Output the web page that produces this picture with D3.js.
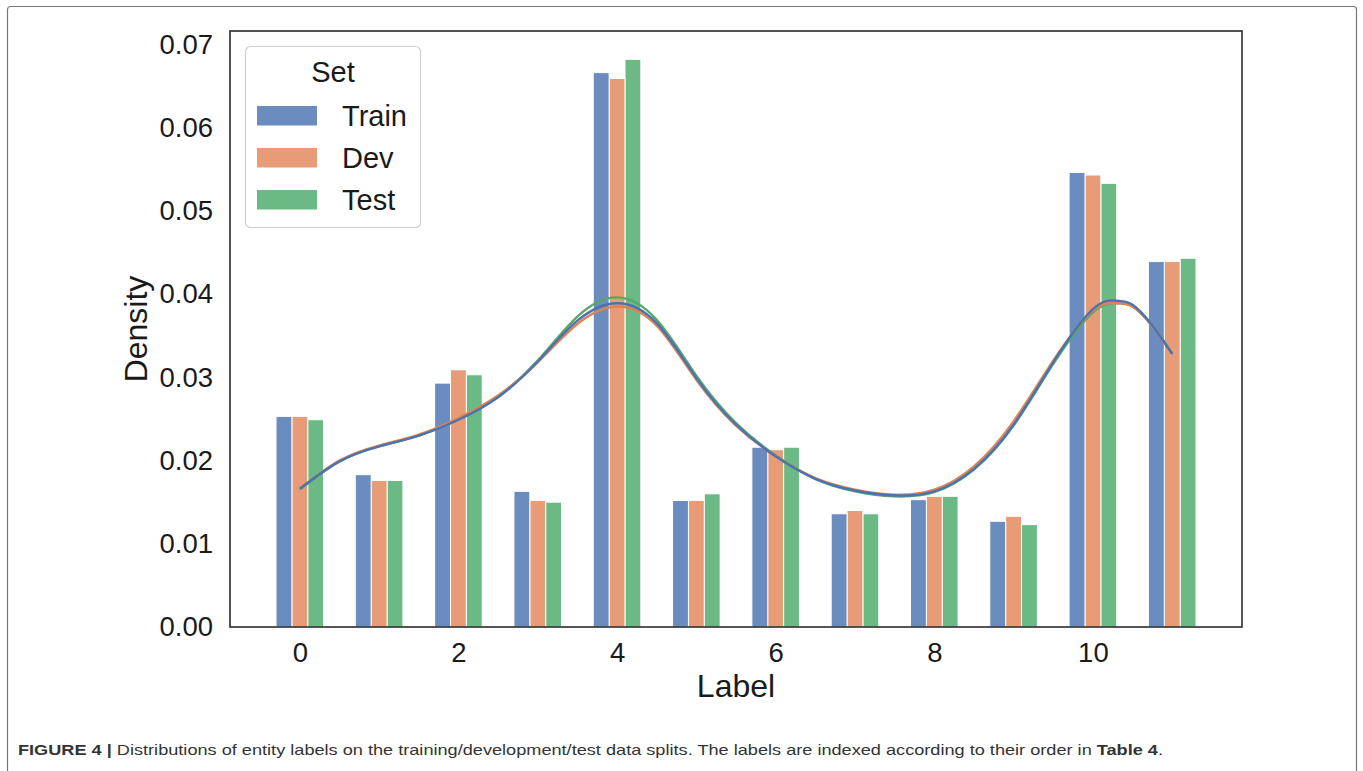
<!doctype html>
<html>
<head>
    <meta charset="UTF-8">
    <title>Entity label distributions</title>
    <script src="https://cdn.jsdelivr.net/npm/d3@7"></script>
    <style>
        body { margin: 0; background: #fff; }
        text { font-family: "Liberation Sans", Arial, Helvetica, sans-serif; fill: #1a1a1a; }
        .tick-label { font-size: 27.5px; }
        .axis-title { font-size: 32px; }
        .legend-text { font-size: 29px; }
        .caption { font-size: 15px; fill: #333; }
    </style>
</head>
<body>
<script>
    // bar heights per label
    var labels = [0, 1, 2, 3, 4, 5, 6, 7, 8, 9, 10, 11];
    var sets = ["Train", "Dev", "Test"];
    var trainVals = [0.0253, 0.0183, 0.0293, 0.0163, 0.0666, 0.0152, 0.0216, 0.0136, 0.0153, 0.0127, 0.0546, 0.0439];
    var devVals   = [0.0253, 0.0176, 0.0309, 0.0152, 0.0659, 0.0152, 0.0213, 0.0140, 0.0157, 0.0133, 0.0543, 0.0439];
    var testVals  = [0.0249, 0.0176, 0.0303, 0.0150, 0.0682, 0.0160, 0.0216, 0.0136, 0.0157, 0.0123, 0.0533, 0.0443];

    // density curves, sampled along x
    var kdeX     = [0, 0.5, 1, 1.5, 2, 2.5, 3, 3.5, 4, 4.5, 5, 5.5, 6, 6.5, 7, 7.5, 8, 8.5, 9, 9.5, 10, 10.3, 10.5, 10.75, 11];
    var trainKde = [0.0166, 0.0199, 0.0217, 0.0230, 0.0249, 0.0276, 0.0319, 0.0368, 0.0389, 0.0365, 0.0299, 0.0243, 0.0205, 0.0178, 0.0164, 0.0158, 0.0163, 0.0190, 0.0243, 0.0318, 0.0382, 0.0392, 0.0387, 0.0362, 0.0328];
    var devKde   = [0.0166, 0.0200, 0.0218, 0.0231, 0.0251, 0.0278, 0.0318, 0.0364, 0.0385, 0.0362, 0.0297, 0.0242, 0.0205, 0.0179, 0.0165, 0.0159, 0.0165, 0.0193, 0.0247, 0.0320, 0.0380, 0.0389, 0.0385, 0.0361, 0.0328];
    var testKde  = [0.0165, 0.0199, 0.0217, 0.0230, 0.0249, 0.0277, 0.0320, 0.0373, 0.0396, 0.0369, 0.0302, 0.0245, 0.0206, 0.0178, 0.0163, 0.0157, 0.0162, 0.0189, 0.0242, 0.0316, 0.0378, 0.0389, 0.0385, 0.0362, 0.0329];

    var xTicks = [0, 2, 4, 6, 8, 10];
    var yTicks = [0, 0.01, 0.02, 0.03, 0.04, 0.05, 0.06, 0.07];

    var barColors  = ["#6b8cbf", "#e89b77", "#6bb985"];
    var lineColors = ["#4c72b0", "#dd8452", "#55a868"];

    var W = 1363, H = 771;
    var plot = { left: 230, right: 1242, top: 31, bottom: 627 };

    var svg = d3.select("body").append("svg")
        .attr("width", W)
        .attr("height", H);

    // figure frame
    svg.append("rect")
        .attr("x", 7.5).attr("y", 6.5)
        .attr("width", 1349).attr("height", 780)
        .attr("rx", 3)
        .style("fill", "none")
        .style("stroke", "#777")
        .style("stroke-width", 1.2);

    var x = d3.scaleLinear().domain([-0.88, 11.88]).range([plot.left, plot.right]);
    var y = d3.scaleLinear().domain([0, 0.0716]).range([plot.bottom, plot.top]);

    var series = [trainVals, devVals, testVals];
    var barW = 0.2;

    // bars, drawn in reverse hue order like seaborn
    for (var s = series.length - 1; s >= 0; s--) {
        svg.append("g").selectAll("rect")
            .data(labels)
            .enter()
            .append("rect")
            .attr("x", function (d) { return x(d - 0.3 + s * barW); })
            .attr("width", function (d) { return x(d - 0.3 + (s + 1) * barW) - x(d - 0.3 + s * barW); })
            .attr("y", function (d, i) { return y(series[s][i]); })
            .attr("height", function (d, i) { return y(0) - y(series[s][i]); })
            .style("fill", barColors[s])
            .style("stroke", "#fff")
            .style("stroke-width", 1);
    }

    // kde lines
    var kdes = [trainKde, devKde, testKde];
    var line = d3.line()
        .x(function (d, i) { return x(kdeX[i]); })
        .y(function (d) { return y(d); })
        .curve(d3.curveNatural);

    for (var k = kdes.length - 1; k >= 0; k--) {
        svg.append("path")
            .datum(kdes[k])
            .attr("d", line)
            .style("fill", "none")
            .style("stroke", lineColors[k])
            .style("stroke-width", 2.4);
    }

    // axes frame
    svg.append("rect")
        .attr("x", plot.left).attr("y", plot.top)
        .attr("width", plot.right - plot.left)
        .attr("height", plot.bottom - plot.top)
        .style("fill", "none")
        .style("stroke", "#2b2b2b")
        .style("stroke-width", 1.6);

    // tick labels (no tick marks in this style)
    var xAxis = d3.axisBottom(x).tickValues(xTicks).tickSize(0).tickPadding(15);
    var gx = svg.append("g")
        .attr("transform", "translate(0," + plot.bottom + ")")
        .call(xAxis);
    gx.select(".domain").remove();
    gx.selectAll("text").attr("class", "tick-label").attr("fill", "#1a1a1a").attr("font-family", null).attr("font-size", null);

    var yAxis = d3.axisLeft(y).tickValues(yTicks).tickSize(0).tickPadding(17).tickFormat(d3.format(".2f"));
    var gy = svg.append("g")
        .attr("transform", "translate(" + plot.left + ",0)")
        .call(yAxis);
    gy.select(".domain").remove();
    gy.selectAll("text").attr("class", "tick-label").attr("fill", "#1a1a1a").attr("font-family", null).attr("font-size", null);

    svg.append("text")
        .attr("class", "axis-title")
        .attr("x", (plot.left + plot.right) / 2)
        .attr("y", 697)
        .style("text-anchor", "middle")
        .text("Label");

    svg.append("text")
        .attr("class", "axis-title")
        .attr("transform", "translate(147," + (plot.top + plot.bottom) / 2 + ") rotate(-90)")
        .style("text-anchor", "middle")
        .text("Density");

    // legend
    var lg = svg.append("g");
    lg.append("rect")
        .attr("x", 245.5).attr("y", 46.5)
        .attr("width", 175).attr("height", 181)
        .attr("rx", 5)
        .style("fill", "#fff")
        .style("stroke", "#d0d0d0")
        .style("stroke-width", 1.2);
    lg.append("text")
        .attr("class", "legend-text")
        .attr("x", 333).attr("y", 82)
        .style("text-anchor", "middle")
        .text("Set");
    sets.forEach(function (name, i) {
        lg.append("rect")
            .attr("x", 257).attr("y", 106 + i * 42)
            .attr("width", 60).attr("height", 19.5)
            .style("fill", barColors[i]);
        lg.append("text")
            .attr("class", "legend-text")
            .attr("x", 342).attr("y", 126 + i * 42)
            .text(name);
    });

    // caption
    var cap = svg.append("text")
        .attr("class", "caption")
        .attr("x", 18).attr("y", 755)
        .attr("textLength", 1145)
        .attr("lengthAdjust", "spacingAndGlyphs");
    cap.append("tspan").style("font-weight", "bold").text("FIGURE 4 | ");
    cap.append("tspan").text("Distributions of entity labels on the training/development/test data splits. The labels are indexed according to their order in ");
    cap.append("tspan").style("font-weight", "bold").text("Table 4");
    cap.append("tspan").text(".");
</script>
</body>
</html>
